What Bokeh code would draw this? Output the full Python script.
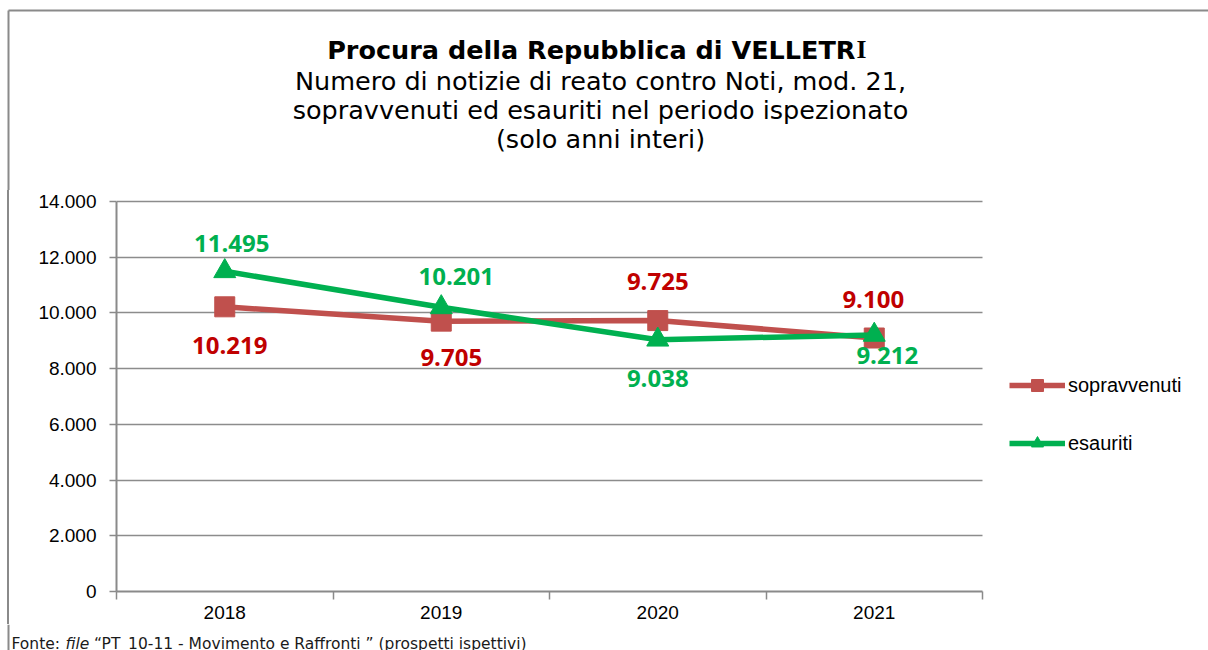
from bokeh.plotting import figure
from bokeh.layouts import column
from bokeh.models import (ColumnDataSource, LabelSet, Label, Legend, LegendItem,
                          FixedTicker, Range1d)
from bokeh.core.properties import value
from bokeh.embed import file_html
from bokeh.resources import INLINE

# ---- data ----
years = ["2018", "2019", "2020", "2021"]
sopravvenuti = [10219, 9705, 9725, 9100]
esauriti = [11495, 10201, 9038, 9212]
y_ticks = [0, 2000, 4000, 6000, 8000, 10000, 12000, 14000]
y_tick_labels = ["0", "2.000", "4.000", "6.000", "8.000", "10.000", "12.000", "14.000"]
title_bold = "Procura della Repubblica di VELLETR"
title_tail = "I"
subtitle = ["Numero di notizie di reato contro Noti, mod. 21,",
            "sopravvenuti ed esauriti nel periodo ispezionato",
            "(solo anni interi)"]
footer_parts = ["Fonte: ", "file ", "\u201cPT_10-11 - Movimento e Raffronti \u201d (prospetti ispettivi)"]

def fmt(v):
    return f"{v:,}".replace(",", ".")

# label placement (screen px offsets)
sop_dx = [5, 10, 0, -1]
sop_dy = [-39, -36, 39, 39]
esa_dx = [7, 15, 0, 13]
esa_dy = [28, 31, -39, -21]

n = len(years)
xs = [i + 0.5 for i in range(n)]
y_max = y_ticks[-1]

W = 1208
TOP_H = 190          # title strip
BOT_H = 26           # footer strip
MAIN_H = 650 - TOP_H - BOT_H
L, R, T, B = 116, 982, 201, 591   # plot area in page coords
PAD_T = 3                         # frame starts a little above the top gridline
GRAY = "#8a8a8a"
FONT = "DejaVu Sans"

# ---------------- title strip ----------------
pt = figure(width=W, height=TOP_H, output_backend="svg", toolbar_location=None,
            x_range=Range1d(0, W), y_range=Range1d(TOP_H, 0),
            x_axis_location=None, y_axis_location=None,
            min_border=0, min_border_left=0, min_border_right=0,
            min_border_top=0, min_border_bottom=0, frame_align=False)
pt.grid.visible = False
pt.outline_line_color = None
pt.segment(x0=[8, 8], y0=[10, 10], x1=[W, 8], y1=[10, TOP_H],
           line_color=GRAY, line_width=2)
pt.add_layout(Label(x=855, y=49, text=title_bold, text_align="right",
                    text_baseline="alphabetic", text_font=FONT,
                    text_font_style="bold", text_font_size="25.5px", text_color="black"))
pt.add_layout(Label(x=856, y=49, text=title_tail, text_align="left",
                    text_baseline="alphabetic", text_font="Liberation Serif",
                    text_font_style="bold", text_font_size="25.5px", text_color="black"))
for i, line in enumerate(subtitle):
    pt.add_layout(Label(x=600, y=80 + 29 * i, text=line, text_align="center",
                        text_baseline="alphabetic", text_font=FONT,
                        text_font_size="25.5px", text_color="black"))

# ---------------- main chart ----------------
# the frame runs to the right edge so the legend can sit inside it;
# axis and grid are bounded to the category span
x_end = n * (W - L) / (R - L)
y_end = y_max * (B - T + PAD_T) / (B - T)
p = figure(width=W, height=MAIN_H, output_backend="svg", toolbar_location=None,
           x_range=Range1d(0, x_end), y_range=Range1d(0, y_end), title=None,
           frame_align=False,
           min_border_left=L, min_border_right=0,
           min_border_top=T - PAD_T - TOP_H, min_border_bottom=(TOP_H + MAIN_H) - B)
p.outline_line_color = None
p.background_fill_color = "white"
p.border_fill_alpha = 0
p.styles = {"background-color": "white",
            "background-image": f"linear-gradient({GRAY}, {GRAY})",
            "background-size": "2px 100%",
            "background-position": "7px 0px",
            "background-repeat": "no-repeat"}

p.xaxis.ticker = FixedTicker(ticks=xs, minor_ticks=list(range(n + 1)))
p.xaxis.bounds = (0, n)
p.xaxis.major_label_overrides = {x: y for x, y in zip(xs, years)}
p.xaxis.major_tick_line_color = None
p.xaxis.major_tick_in = 0
p.xaxis.major_tick_out = 0
p.xaxis.minor_tick_line_color = GRAY
p.xaxis.minor_tick_line_width = 1.5
p.xaxis.minor_tick_in = 0
p.xaxis.minor_tick_out = 8
p.xaxis.axis_line_color = GRAY
p.xaxis.axis_line_width = 2
p.xaxis.major_label_text_font = "Liberation Sans"
p.xaxis.major_label_text_font_size = "19px"
p.xaxis.major_label_text_color = "black"
p.xaxis.major_label_standoff = 6

p.yaxis.ticker = FixedTicker(ticks=y_ticks)
p.yaxis.bounds = (0, y_max)
p.yaxis.major_label_overrides = {t: s for t, s in zip(y_ticks, y_tick_labels)}
p.yaxis.minor_tick_line_color = None
p.yaxis.major_tick_in = 0
p.yaxis.major_tick_out = 7
p.yaxis.major_tick_line_color = GRAY
p.yaxis.major_tick_line_width = 1.5
p.yaxis.axis_line_color = GRAY
p.yaxis.axis_line_width = 2
p.yaxis.major_label_text_font = "Liberation Sans"
p.yaxis.major_label_text_font_size = "19px"
p.yaxis.major_label_text_color = "black"
p.yaxis.major_label_standoff = 13

p.xgrid.grid_line_color = None
p.ygrid.ticker = FixedTicker(ticks=y_ticks)
p.ygrid.grid_line_color = "#8c8c8c"
p.ygrid.grid_line_width = 1.5
try:
    p.ygrid.cross_bounds = (0, n)   # stop grid lines at the end of the category span
except Exception:
    p.ygrid.visible = False
    p.segment(x0=[0] * len(y_ticks), y0=y_ticks, x1=[n] * len(y_ticks), y1=y_ticks,
              line_color="#8c8c8c", line_width=1.5, level="underlay")

red = "#C0504D"
green = "#00B050"
red_lbl = "#C00000"

src_s = ColumnDataSource(dict(x=xs, y=sopravvenuti, t=[fmt(v) for v in sopravvenuti],
                              dx=sop_dx, dy=sop_dy))
src_e = ColumnDataSource(dict(x=xs, y=esauriti, t=[fmt(v) for v in esauriti],
                              dx=esa_dx, dy=esa_dy))

ls = p.line("x", "y", source=src_s, line_color=red, line_width=5.5)
ms = p.scatter("x", "y", source=src_s, marker="square", size=20,
               fill_color=red, line_color=red)
le = p.line("x", "y", source=src_e, line_color=green, line_width=5.5)
me = p.scatter("x", "y", source=src_e, marker="triangle", size=22,
               fill_color=green, line_color=green)

for src, col in ((src_s, red_lbl), (src_e, green)):
    p.add_layout(LabelSet(x="x", y="y", text="t", source=src,
                          x_offset="dx", y_offset="dy",
                          text_align="center", text_baseline="middle",
                          text_font=value("Open Sans"), text_font_style="bold",
                          text_font_size="24px", text_color=col))

legend = Legend(items=[LegendItem(label="sopravvenuti", renderers=[ls, ms]),
                       LegendItem(label="esauriti", renderers=[le, me])],
                location=(1009 - L, B - 458), orientation="vertical",
                glyph_width=56, glyph_height=30, label_height=30, spacing=28,
                label_standoff=3, padding=0, margin=0,
                border_line_color=None, background_fill_alpha=0,
                label_text_font="Liberation Sans", label_text_font_size="20px",
                label_text_color="black")
p.add_layout(legend)

# ---------------- footer strip ----------------
y0 = TOP_H + MAIN_H
pb = figure(width=W, height=BOT_H, output_backend="svg", toolbar_location=None,
            x_range=Range1d(0, W), y_range=Range1d(650, y0),
            x_axis_location=None, y_axis_location=None,
            min_border=0, min_border_left=0, min_border_right=0,
            min_border_top=0, min_border_bottom=0, frame_align=False)
pb.grid.visible = False
pb.outline_line_color = None
pb.segment(x0=[8], y0=[y0], x1=[8], y1=[650], line_color=GRAY, line_width=2)
fx = [11, 65, 93.5]
styles = ["normal", "italic", "normal"]
for txt, x, st in zip(footer_parts, fx, styles):
    pb.add_layout(Label(x=x, y=643, text=txt, text_align="left",
                        text_baseline="alphabetic", text_font=FONT,
                        text_font_style=st, text_font_size="15.5px",
                        text_color="#1a1a1a"))

layout = column(pt, p, pb, spacing=0)
open("out.html", "w").write(file_html(layout, INLINE))
